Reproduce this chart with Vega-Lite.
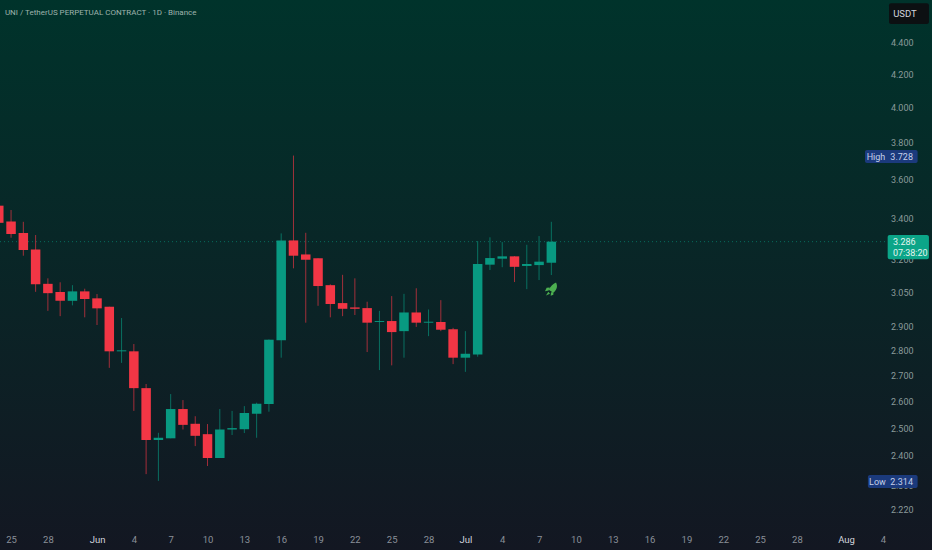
{
  "$schema": "https://vega.github.io/schema/vega-lite/v6.json",
  "width": 932,
  "height": 550,
  "padding": 0,
  "autosize": {"type": "none"},
  "background": "#131722",
  "view": {
    "stroke": null,
    "fill": {
      "gradient": "linear",
      "x1": 0, "y1": 0, "x2": 0, "y2": 1,
      "stops": [
        {"offset": 0, "color": "#00332b"},
        {"offset": 1, "color": "#131722"}
      ]
    }
  },
  "datasets": {
    "candles": [
      {"date": "2026-05-24", "open": 3.464, "high": 3.464, "low": 3.378, "close": 3.378, "side": "down"},
      {"date": "2026-05-25", "open": 3.385, "high": 3.442, "low": 3.305, "close": 3.323, "side": "down"},
      {"date": "2026-05-26", "open": 3.328, "high": 3.383, "low": 3.219, "close": 3.246, "side": "down"},
      {"date": "2026-05-27", "open": 3.249, "high": 3.318, "low": 3.053, "close": 3.087, "side": "down"},
      {"date": "2026-05-28", "open": 3.089, "high": 3.114, "low": 2.969, "close": 3.047, "side": "down"},
      {"date": "2026-05-29", "open": 3.052, "high": 3.096, "low": 2.946, "close": 3.013, "side": "down"},
      {"date": "2026-05-30", "open": 3.013, "high": 3.083, "low": 2.993, "close": 3.055, "side": "up"},
      {"date": "2026-05-31", "open": 3.055, "high": 3.067, "low": 2.941, "close": 3.021, "side": "down"},
      {"date": "2026-06-01", "open": 3.024, "high": 3.043, "low": 2.908, "close": 2.980, "side": "down"},
      {"date": "2026-06-02", "open": 2.987, "high": 2.987, "low": 2.731, "close": 2.798, "side": "down"},
      {"date": "2026-06-03", "open": 2.798, "high": 2.938, "low": 2.751, "close": 2.802, "side": "up"},
      {"date": "2026-06-04", "open": 2.798, "high": 2.828, "low": 2.564, "close": 2.651, "side": "down"},
      {"date": "2026-06-05", "open": 2.651, "high": 2.667, "low": 2.337, "close": 2.457, "side": "down"},
      {"date": "2026-06-06", "open": 2.457, "high": 2.483, "low": 2.314, "close": 2.465, "side": "up"},
      {"date": "2026-06-07", "open": 2.463, "high": 2.628, "low": 2.463, "close": 2.571, "side": "up"},
      {"date": "2026-06-08", "open": 2.571, "high": 2.605, "low": 2.495, "close": 2.512, "side": "down"},
      {"date": "2026-06-09", "open": 2.516, "high": 2.544, "low": 2.435, "close": 2.472, "side": "down"},
      {"date": "2026-06-10", "open": 2.478, "high": 2.515, "low": 2.365, "close": 2.393, "side": "down"},
      {"date": "2026-06-11", "open": 2.393, "high": 2.571, "low": 2.393, "close": 2.495, "side": "up"},
      {"date": "2026-06-12", "open": 2.495, "high": 2.564, "low": 2.475, "close": 2.500, "side": "up"},
      {"date": "2026-06-13", "open": 2.496, "high": 2.582, "low": 2.482, "close": 2.556, "side": "up"},
      {"date": "2026-06-14", "open": 2.553, "high": 2.595, "low": 2.465, "close": 2.591, "side": "up"},
      {"date": "2026-06-15", "open": 2.590, "high": 2.847, "low": 2.561, "close": 2.846, "side": "up"},
      {"date": "2026-06-16", "open": 2.844, "high": 3.326, "low": 2.772, "close": 3.292, "side": "up"},
      {"date": "2026-06-17", "open": 3.292, "high": 3.728, "low": 3.160, "close": 3.219, "side": "down"},
      {"date": "2026-06-18", "open": 3.225, "high": 3.329, "low": 2.918, "close": 3.200, "side": "down"},
      {"date": "2026-06-19", "open": 3.207, "high": 3.207, "low": 2.991, "close": 3.079, "side": "down"},
      {"date": "2026-06-20", "open": 3.083, "high": 3.087, "low": 2.941, "close": 2.999, "side": "down"},
      {"date": "2026-06-21", "open": 3.003, "high": 3.130, "low": 2.946, "close": 2.978, "side": "down"},
      {"date": "2026-06-22", "open": 2.984, "high": 3.114, "low": 2.951, "close": 2.978, "side": "down"},
      {"date": "2026-06-23", "open": 2.981, "high": 3.009, "low": 2.795, "close": 2.918, "side": "down"},
      {"date": "2026-06-24", "open": 2.921, "high": 2.969, "low": 2.722, "close": 2.925, "side": "up"},
      {"date": "2026-06-25", "open": 2.925, "high": 3.034, "low": 2.741, "close": 2.878, "side": "down"},
      {"date": "2026-06-26", "open": 2.882, "high": 3.044, "low": 2.772, "close": 2.962, "side": "up"},
      {"date": "2026-06-27", "open": 2.962, "high": 3.069, "low": 2.900, "close": 2.918, "side": "down"},
      {"date": "2026-06-28", "open": 2.918, "high": 2.975, "low": 2.861, "close": 2.922, "side": "up"},
      {"date": "2026-06-29", "open": 2.921, "high": 3.016, "low": 2.882, "close": 2.888, "side": "down"},
      {"date": "2026-06-30", "open": 2.890, "high": 2.896, "low": 2.746, "close": 2.772, "side": "down"},
      {"date": "2026-07-01", "open": 2.772, "high": 2.882, "low": 2.715, "close": 2.788, "side": "up"},
      {"date": "2026-07-02", "open": 2.785, "high": 3.289, "low": 2.776, "close": 3.180, "side": "up"},
      {"date": "2026-07-03", "open": 3.177, "high": 3.307, "low": 3.152, "close": 3.208, "side": "up"},
      {"date": "2026-07-04", "open": 3.205, "high": 3.284, "low": 3.165, "close": 3.216, "side": "up"},
      {"date": "2026-07-05", "open": 3.216, "high": 3.217, "low": 3.097, "close": 3.167, "side": "down"},
      {"date": "2026-07-06", "open": 3.171, "high": 3.271, "low": 3.065, "close": 3.180, "side": "up"},
      {"date": "2026-07-07", "open": 3.175, "high": 3.313, "low": 3.106, "close": 3.191, "side": "up"},
      {"date": "2026-07-08", "open": 3.186, "high": 3.383, "low": 3.129, "close": 3.286, "side": "up"}
    ]
  },
  "encoding": {
    "x": {
      "field": "date",
      "type": "temporal",
      "title": null,
      "scale": {
        "type": "utc",
        "padding": 0,
        "domain": [
          {"year": 2026, "month": 5, "date": 24, "hours": 2, "minutes": 24, "utc": true},
          {"year": 2026, "month": 8, "date": 8, "utc": true}
        ]
      },
      "axis": {
        "orient": "bottom",
        "offset": -16,
        "domain": false,
        "ticks": false,
        "grid": false,
        "labelPadding": 0,
        "labelOverlap": false,
        "labelFlush": false,
        "labelBound": false,
        "labelFont": "Roboto",
        "labelFontSize": 9.5,
        "labelExpr": "utcFormat(datum.value, utcdate(datum.value) == 1 ? '%b' : '%-d')",
        "labelColor": {
          "condition": {"test": "utcdate(datum.value) == 1", "value": "#d1d4dc"},
          "value": "#8a9099"
        },
        "values": [
          {"year": 2026, "month": 5, "date": 25, "utc": true},
          {"year": 2026, "month": 5, "date": 28, "utc": true},
          {"year": 2026, "month": 6, "date": 1, "utc": true},
          {"year": 2026, "month": 6, "date": 4, "utc": true},
          {"year": 2026, "month": 6, "date": 7, "utc": true},
          {"year": 2026, "month": 6, "date": 10, "utc": true},
          {"year": 2026, "month": 6, "date": 13, "utc": true},
          {"year": 2026, "month": 6, "date": 16, "utc": true},
          {"year": 2026, "month": 6, "date": 19, "utc": true},
          {"year": 2026, "month": 6, "date": 22, "utc": true},
          {"year": 2026, "month": 6, "date": 25, "utc": true},
          {"year": 2026, "month": 6, "date": 28, "utc": true},
          {"year": 2026, "month": 7, "date": 1, "utc": true},
          {"year": 2026, "month": 7, "date": 4, "utc": true},
          {"year": 2026, "month": 7, "date": 7, "utc": true},
          {"year": 2026, "month": 7, "date": 10, "utc": true},
          {"year": 2026, "month": 7, "date": 13, "utc": true},
          {"year": 2026, "month": 7, "date": 16, "utc": true},
          {"year": 2026, "month": 7, "date": 19, "utc": true},
          {"year": 2026, "month": 7, "date": 22, "utc": true},
          {"year": 2026, "month": 7, "date": 25, "utc": true},
          {"year": 2026, "month": 7, "date": 28, "utc": true},
          {"year": 2026, "month": 8, "date": 1, "utc": true},
          {"year": 2026, "month": 8, "date": 4, "utc": true}
        ]
      }
    },
    "y": {
      "field": "price",
      "type": "quantitative",
      "title": null,
      "scale": {"type": "log", "domain": [2.091, 4.683], "nice": false, "zero": false},
      "axis": {
        "orient": "right",
        "offset": -19,
        "domain": false,
        "ticks": false,
        "grid": false,
        "labelPadding": 0,
        "labelAlign": "right",
        "labelOverlap": false,
        "labelBound": false,
        "labelFont": "Roboto",
        "labelFontSize": 9,
        "labelColor": "#8a9a9a",
        "format": ".3f",
        "values": [2.22, 2.3, 2.4, 2.5, 2.6, 2.7, 2.8, 2.9, 3.05, 3.2, 3.4, 3.6, 3.8, 4.0, 4.2, 4.4]
      }
    }
  },
  "layer": [
    {
      "data": {"values": [{"date": "2026-05-24T02:24:00Z", "end": "2026-08-04T09:22:00Z", "price": 3.286}]},
      "mark": {"type": "rule", "strokeDash": [1, 3], "strokeWidth": 1, "color": "#089981", "opacity": 0.6},
      "encoding": {"x2": {"field": "end"}}
    },
    {
      "data": {"name": "candles"},
      "mark": {"type": "rule", "strokeWidth": 1, "opacity": 0.65, "clip": true},
      "encoding": {
        "y": {"field": "low", "type": "quantitative"},
        "y2": {"field": "high"},
        "color": {
          "field": "side",
          "type": "nominal",
          "legend": null,
          "scale": {
            "domain": ["up", "down", "unit", "high", "low", "last"],
            "range": ["#089981", "#f23645", "#0c1012", "#1b3a7c", "#1b3a7c", "#0ba588"]
          }
        }
      }
    },
    {
      "data": {"name": "candles"},
      "mark": {"type": "bar", "width": 9.5, "clip": true},
      "encoding": {
        "y": {"field": "open", "type": "quantitative"},
        "y2": {"field": "close"},
        "color": {"field": "side", "type": "nominal", "legend": null}
      }
    },
    {
      "data": {"values": [{"date": "2026-07-08", "price": 3.065}]},
      "mark": {
        "type": "point",
        "filled": true,
        "size": 180,
        "color": "#4caf50",
        "opacity": 1,
        "shape": "M0.7,-1 C1,-0.4 0.8,0.1 0.3,0.55 L-0.4,0.1 C-0.05,-0.5 0.2,-0.8 0.7,-1 Z M-0.25,-0.25 L-0.7,-0.2 L-0.95,0.3 L-0.4,0.2 Z M0.3,0.35 L0.3,0.85 L-0.1,1 L-0.05,0.5 Z M-0.45,0.4 L-0.8,0.95 L-0.2,0.7 Z"
      }
    },
    {
      "data": {
        "values": [
          {"start": "2026-08-04T12:00:00Z", "end": "2026-08-07T18:00:00Z", "top": 4.661, "bottom": 4.521, "name": "unit"},
          {"start": "2026-08-02T13:00:00Z", "end": "2026-08-06T19:55:00Z", "top": 3.7585, "bottom": 3.687, "name": "high"},
          {"start": "2026-08-02T18:43:00Z", "end": "2026-08-06T19:55:00Z", "top": 2.3337, "bottom": 2.2897, "name": "low"},
          {"start": "2026-08-04T09:22:00Z", "end": "2026-08-07T18:00:00Z", "top": 3.318, "bottom": 3.202, "name": "last"}
        ]
      },
      "mark": {"type": "bar", "cornerRadius": 2},
      "encoding": {
        "x": {"field": "start", "type": "temporal"},
        "x2": {"field": "end"},
        "y": {"field": "top", "type": "quantitative"},
        "y2": {"field": "bottom"},
        "color": {"field": "name", "type": "nominal", "legend": null}
      }
    },
    {
      "data": {"values": [{"date": "2026-05-24T12:00:00Z", "price": 4.594, "label": "UNI / TetherUS PERPETUAL CONTRACT · 1D · Binance"}]},
      "mark": {"type": "text", "align": "left", "baseline": "middle", "font": "Roboto", "fontSize": 8, "color": "#9fb3ad"},
      "encoding": {"text": {"field": "label"}}
    },
    {
      "data": {"values": [{"date": "2026-08-05T19:12:00Z", "price": 4.59, "label": "USDT"}]},
      "mark": {"type": "text", "align": "center", "baseline": "middle", "font": "Roboto", "fontSize": 9.5, "color": "#d1d4dc"},
      "encoding": {"text": {"field": "label"}}
    },
    {
      "data": {
        "values": [
          {"date": "2026-08-03T10:34:00Z", "price": 3.7228, "label": "High"},
          {"date": "2026-08-03T13:26:00Z", "price": 2.3113, "label": "Low"}
        ]
      },
      "mark": {"type": "text", "align": "center", "baseline": "middle", "font": "Roboto", "fontSize": 9, "color": "#c5d0ea"},
      "encoding": {"text": {"field": "label"}}
    },
    {
      "data": {
        "values": [
          {"date": "2026-08-06T10:48:00Z", "price": 3.7228, "label": "3.728"},
          {"date": "2026-08-06T10:48:00Z", "price": 2.3113, "label": "2.314"}
        ]
      },
      "mark": {"type": "text", "align": "right", "baseline": "middle", "font": "Roboto", "fontSize": 9, "color": "#c5d0ea"},
      "encoding": {"text": {"field": "label"}}
    },
    {
      "data": {
        "values": [
          {"date": "2026-08-04T19:41:00Z", "price": 3.286, "label": "3.286"},
          {"date": "2026-08-04T19:41:00Z", "price": 3.232, "label": "07:38:20"}
        ]
      },
      "mark": {"type": "text", "align": "left", "baseline": "middle", "font": "Roboto", "fontSize": 9, "color": "#e4f5f0"},
      "encoding": {"text": {"field": "label"}}
    }
  ]
}
